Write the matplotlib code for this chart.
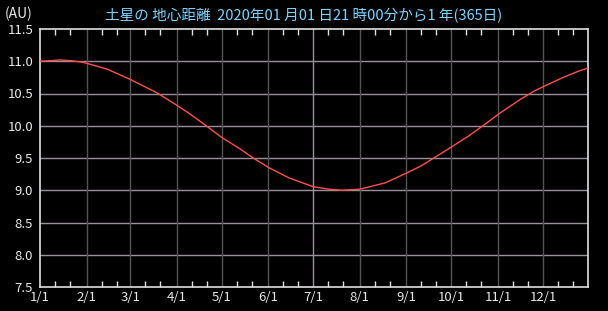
import matplotlib
matplotlib.use('Agg')
from matplotlib import pyplot as plt
import numpy as np

# day offsets from 2020-01-01 21:00 and geocentric distance of Saturn (AU)
days = [0, 8, 13, 20, 27, 31, 45, 60, 78, 91, 100, 111, 121, 133, 142, 152, 166,
        182, 193, 201, 213, 230, 244, 254, 263, 274, 286, 295, 306, 320,
        329, 336, 349, 358, 365]
dist = [11.00, 11.01, 11.02, 11.01, 10.99, 10.97, 10.875, 10.72, 10.51, 10.32,
        10.18, 9.995, 9.82, 9.645, 9.50, 9.355, 9.19, 9.055, 9.015, 9.00,
        9.016, 9.115, 9.265, 9.38, 9.51, 9.67, 9.85, 10.00, 10.19, 10.41, 10.535,
        10.615, 10.755, 10.84, 10.895]

month_days = [0, 31, 60, 91, 121, 152, 182, 213, 244, 274, 305, 335]
month_labels = ['1/1', '2/1', '3/1', '4/1', '5/1', '6/1', '7/1', '8/1', '9/1', '10/1', '11/1', '12/1']
y_ticks = [7.5, 8.0, 8.5, 9.0, 9.5, 10.0, 10.5, 11.0, 11.5]

title = '土星の 地心距離  2020年01 月01 日21 時00分から1 年(365日)'

plt.rcParams['font.family'] = ['Noto Sans CJK JP', 'DejaVu Sans']

fig = plt.figure(figsize=(6.08, 3.11), dpi=100, facecolor='black')
ax = fig.add_axes([40/608, 24/311, 548/608, 258/311], facecolor='black')

# grid
for yv in y_ticks[1:-1]:
    ax.axhline(yv, color='#9a8f9a', lw=1, zorder=1)
for d in month_days[1:]:
    c = '#9a8f9a' if d == 182 else '#555555'
    ax.axvline(d, color=c, lw=1, zorder=1)

ax.plot(days, dist, color='#ff5050', lw=1, zorder=3)

ax.set_xlim(0, 365)
ax.set_ylim(7.5, 11.5)
ax.set_xticks(month_days)
ax.set_xticklabels(month_labels)
ax.set_yticks(y_ticks)
ax.set_yticklabels(['%.1f' % v for v in y_ticks])

minor = []
for d in month_days:
    minor += [d + 10, d + 20]
ax.set_xticks(minor, minor=True)
ax.tick_params(axis='x', which='minor', direction='in', length=4, color='#e0e0e0',
               top=True, bottom=True, width=1)
ax.tick_params(axis='both', which='major', length=0, colors='#e8e8e8', labelsize=9.5)
ax.tick_params(axis='x', which='major', pad=3)
ax.tick_params(axis='y', which='major', pad=5)

for sp in ax.spines.values():
    sp.set_color('#e0e0e0')
    sp.set_linewidth(1.2)

fig.text(0.5, 0.95, title, color='#7fd4ff', fontsize=10.5, ha='center', va='center')
fig.text(5/608, 0.955, '(AU)', color='#e8e8e8', fontsize=10, ha='left', va='center')

fig.savefig('out.png', dpi=100, facecolor='black')
